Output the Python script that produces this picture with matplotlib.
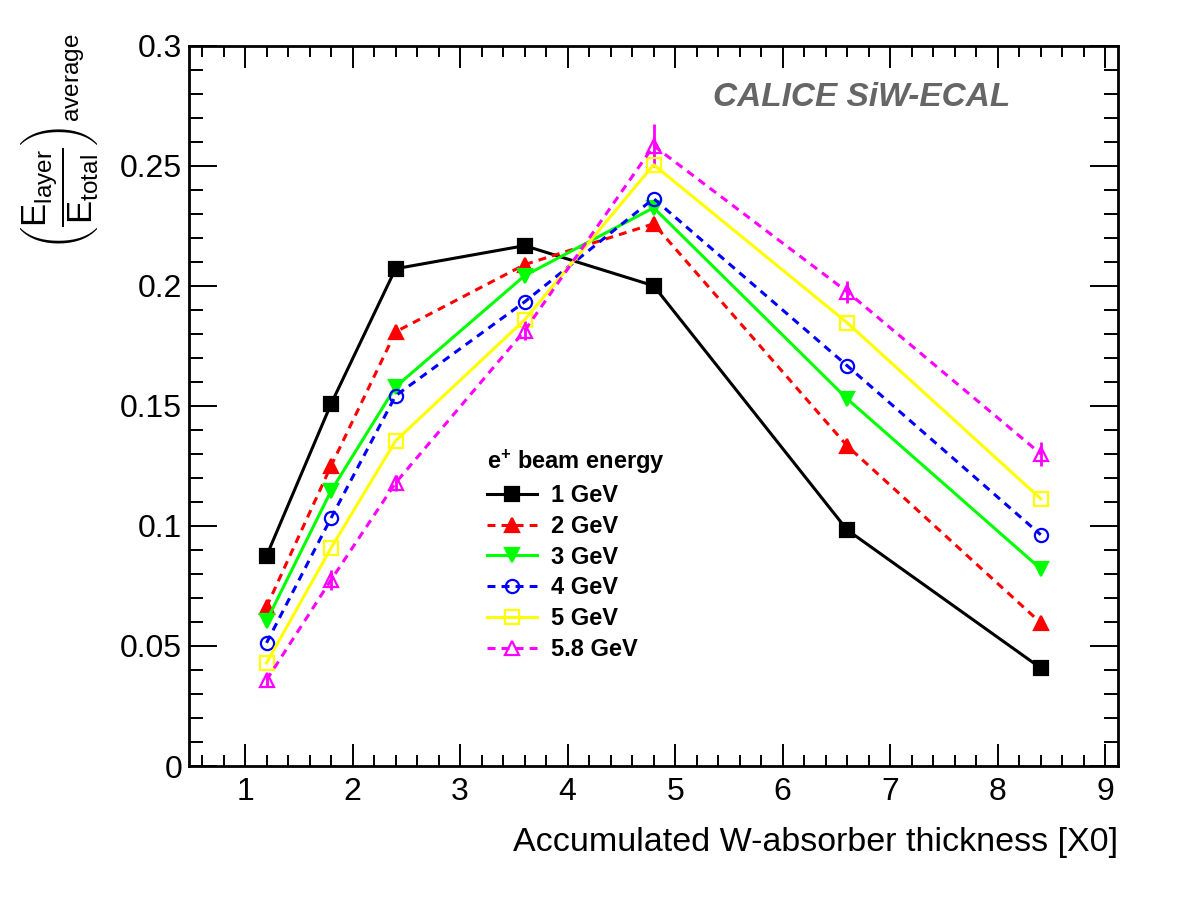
import matplotlib
matplotlib.use("Agg")
import matplotlib.pyplot as plt
from matplotlib.lines import Line2D

plt.rcParams["font.family"] = ["Liberation Sans", "DejaVu Sans"]
plt.rcParams["mathtext.fontset"] = "custom"
plt.rcParams["mathtext.rm"] = "Liberation Sans"
plt.rcParams["mathtext.it"] = "Liberation Sans:italic"
plt.rcParams["mathtext.bf"] = "Liberation Sans:bold"

# accumulated absorber thickness [X0]
thickness = [1.2, 1.8, 2.4, 3.6, 4.8, 6.6, 8.4]

e_1gev = [0.0875, 0.1508, 0.2071, 0.2167, 0.2000, 0.0983, 0.0408]
e_2gev = [0.0663, 0.1250, 0.1808, 0.2088, 0.2258, 0.1333, 0.0596]
e_3gev = [0.0604, 0.1146, 0.1579, 0.2042, 0.2325, 0.1529, 0.0821]
e_4gev = [0.0513, 0.1033, 0.1542, 0.1933, 0.2363, 0.1667, 0.0963]
e_5gev = [0.0429, 0.0908, 0.1354, 0.1858, 0.2504, 0.1846, 0.1113]
e_58gev = [0.0358, 0.0775, 0.1179, 0.1813, 0.2583, 0.1975, 0.1300]
err_58gev = [0.003, 0.004, 0.0035, 0.004, 0.009, 0.0045, 0.005]

labels = ["1 GeV", "2 GeV", "3 GeV", "4 GeV", "5 GeV", "5.8 GeV"]

series = [
    (e_1gev, None, "black", "s", True, "-"),
    (e_2gev, None, "#ff0000", "^", True, "--"),
    (e_3gev, None, "#00ff00", "v", True, "-"),
    (e_4gev, None, "#0000ff", "o", False, "--"),
    (e_5gev, None, "#ffff00", "s", False, "-"),
    (e_58gev, err_58gev, "#ff00ff", "^", False, "--"),
]

fig = plt.figure(figsize=(11.82, 9.13), dpi=100)
ax = fig.add_axes([0.160, 0.161, 0.786, 0.789])

handles = []
for (vals, err, col, mk, filled, ls), lab in zip(series, labels):
    style = dict(color=col, marker=mk, markersize=9.5,
                 markerfacecolor=col if filled else "none", markeredgecolor=col,
                 markeredgewidth=1.6, linewidth=2.2, linestyle=ls)
    eb = ax.errorbar(thickness, vals, yerr=err, capsize=0, elinewidth=2.0, **style)
    h = Line2D([], [], **style)
    if ls == "--":
        eb[0].set_dashes((2.6, 2.0))
        h.set_dashes((2.6, 2.0))
    handles.append(h)

ax.set_xlim(0.48, 9.12)
ax.set_ylim(0, 0.3)
ax.set_xticks(range(1, 10))
ax.set_xticks([x / 5 for x in range(3, 46)], minor=True)
ax.set_yticks([0, 0.05, 0.1, 0.15, 0.2, 0.25, 0.3])
ax.set_yticklabels(["0", "0.05", "0.1", "0.15", "0.2", "0.25", "0.3"])
ax.set_yticks([y / 100 for y in range(0, 31)], minor=True)

for s in ax.spines.values():
    s.set_linewidth(2.0)
ax.tick_params(axis="both", which="both", direction="in", top=True, right=True,
               width=1.4, labelsize=23)
ax.tick_params(axis="y", which="major", length=20, pad=5)
ax.tick_params(axis="y", which="minor", length=10)
ax.tick_params(axis="x", which="major", length=16, pad=8)
ax.tick_params(axis="x", which="minor", length=8)

ax.set_xlabel("Accumulated W-absorber thickness [X0]", fontsize=24.5,
              loc="right", labelpad=14)

fig.text(0.050, 1 - 142 / 913,
         r"$\left(\dfrac{\mathrm{E}_{\mathrm{layer}}}{\mathrm{E}_{\mathrm{total}}}\right)_{\mathrm{average}}$",
         rotation=90, ha="center", va="center", fontsize=25)

fig.text(862 / 1182, 1 - 97 / 913, "CALICE SiW-ECAL", fontsize=24,
         fontweight="bold", fontstyle="italic", color="#666666",
         ha="center", va="center")

leg = ax.legend(handles, labels, loc="upper left",
                bbox_to_anchor=(487 / 1182, 1 - 448 / 913),
                bbox_transform=fig.transFigure, frameon=False,
                title=r"e$^{\mathbf{+}}$ beam energy", alignment="left",
                prop={"weight": "bold", "size": 17}, handlelength=2.1,
                handletextpad=0.6, labelspacing=0.33, borderpad=0,
                borderaxespad=0)
leg.get_title().set_fontweight("bold")
leg.get_title().set_fontsize(17)

fig.savefig("out.png", dpi=100)
